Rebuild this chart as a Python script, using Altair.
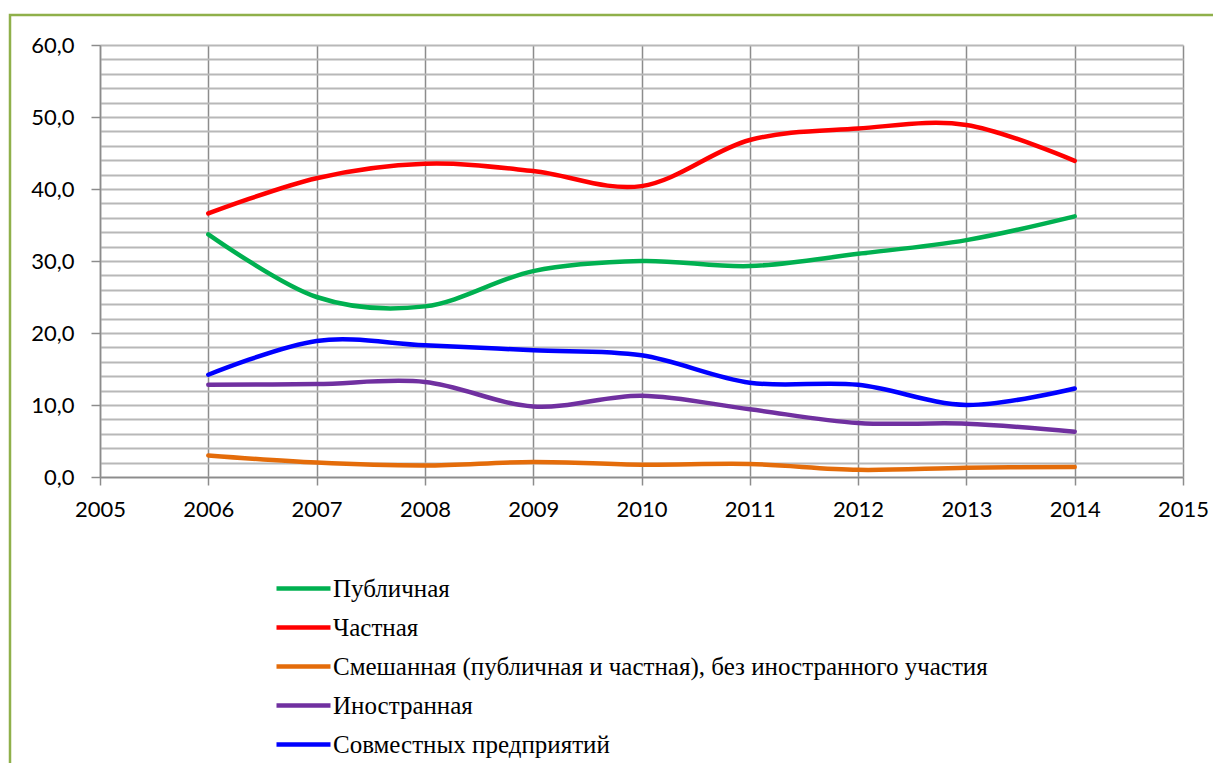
import altair as alt
import pandas as pd

years = [2006, 2007, 2008, 2009, 2010, 2011, 2012, 2013, 2014]
series = [
    "Публичная",
    "Частная",
    "Смешанная (публичная и частная), без иностранного участия",
    "Иностранная",
    "Совместных предприятий",
]
colors = ["#00B050", "#FF0000", "#E46C0A", "#7030A0", "#0000FF"]

public = [33.7, 25.0, 23.7, 28.6, 30.0, 29.3, 31.0, 32.9, 36.2]
private = [36.6, 41.5, 43.5, 42.5, 40.4, 46.8, 48.4, 48.9, 43.9]
mixed = [3.0, 2.0, 1.6, 2.1, 1.7, 1.8, 1.0, 1.3, 1.4]
foreign = [12.8, 12.9, 13.2, 9.8, 11.3, 9.4, 7.5, 7.4, 6.3]
joint = [14.2, 18.9, 18.3, 17.6, 16.9, 13.1, 12.8, 10.0, 12.3]

x_ticks = list(range(2005, 2016))
y_grid = list(range(0, 61, 2))

rows = []
for name, vals in zip(series, [public, private, mixed, foreign, joint]):
    for yr, v in zip(years, vals):
        rows.append({"year": yr, "value": v, "series": name})
df = pd.DataFrame(rows)

frame = alt.Chart(pd.DataFrame({"k": [0]})).mark_rect(
    fillOpacity=0, stroke="#8fb04a", strokeWidth=2.5, clip=False
).encode(
    x=alt.value(-90), x2=alt.value(1300), y=alt.value(-30), y2=alt.value(900)
)

lines = alt.Chart(df).mark_line(
    interpolate="cardinal", tension=0, strokeWidth=4.5, strokeCap="round"
).encode(
    x=alt.X(
        "year:Q",
        scale=alt.Scale(domain=[2005, 2015], nice=False, zero=False),
        axis=alt.Axis(
            values=x_ticks, format="d", title=None,
            grid=True, gridColor="#8c8c8c", gridWidth=1.5,
            domainColor="#8c8c8c", domainWidth=1.5,
            tickColor="#8c8c8c", tickWidth=1.5, tickSize=8,
            labelFont="Lato", labelFontSize=22, labelColor="#000000",
            labelPadding=14, labelFlush=False, labelOverlap=False,
        ),
    ),
    y=alt.Y(
        "value:Q",
        scale=alt.Scale(domain=[0, 60], nice=False),
        axis=alt.Axis(
            values=y_grid, title=None,
            grid=True, gridColor="#b8b8b8", gridWidth=2,
            domainColor="#8c8c8c", domainWidth=1.5,
            tickColor={"condition": {"test": "datum.value % 10 != 0", "value": "transparent"}, "value": "#8c8c8c"},
            tickWidth=1.5, tickSize=9,
            labelExpr="datum.value % 10 == 0 ? replace(format(datum.value, '.1f'), '.', ',') : ''",
            labelFont="Lato", labelFontSize=22, labelColor="#000000",
            labelPadding=17, labelFlush=False, labelOverlap=False,
        ),
    ),
    color=alt.Color(
        "series:N",
        sort=series,
        scale=alt.Scale(domain=series, range=colors),
        legend=alt.Legend(
            title=None, orient="none", legendX=183, legendY=523,
            direction="vertical",
            symbolType="M-1.5,0H1.5", symbolSize=1296, symbolStrokeWidth=4.5,
            labelFont="Liberation Serif", labelFontSize=25, labelColor="#000000",
            labelOffset=9, rowPadding=5, labelLimit=1000,
        ),
    ),
)

chart = alt.layer(frame, lines).properties(
    width=1083, height=432,
    padding={"left": 92, "top": 37, "right": 30, "bottom": 286},
    autosize=alt.AutoSizeParams(type="none"),
    background="#ffffff",
).configure_view(stroke=None)

chart.save("out.html", embed_options={"renderer": "svg", "actions": False})
